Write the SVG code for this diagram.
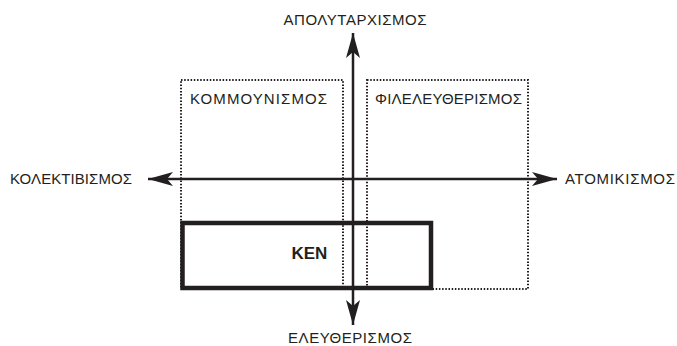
<svg xmlns="http://www.w3.org/2000/svg" width="677" height="346" viewBox="0 0 677 346">
<defs>
<style>
.lbl{font-family:"Liberation Sans",Arial,sans-serif;font-size:15px;fill:#231f20}
.bold{font-family:"Liberation Sans",Arial,sans-serif;font-size:17px;font-weight:bold;fill:#231f20}
.dot{fill:none;stroke:#231f20;stroke-width:2;stroke-dasharray:1.5 1.7}
.axis{fill:none;stroke:#231f20;stroke-width:2.5}
</style>
<marker id="ah" markerUnits="userSpaceOnUse" markerWidth="30" markerHeight="16" viewBox="-26 -8 30 16" refX="0" refY="0" orient="auto-start-reverse" overflow="visible">
<path d="M0,0 L-25,-7 L-19,0 L-25,7 Z" fill="#231f20"/>
</marker>
</defs>
<rect width="677" height="346" fill="#fff"/>
<g id="communism">
<rect class="dot" x="181" y="80" width="162" height="209"/>
<text class="lbl" x="190" y="104" textLength="137" lengthAdjust="spacing">ΚΟΜΜΟΥΝΙΣΜΟΣ</text>
</g>
<g id="liberalism">
<rect class="dot" x="367" y="80" width="161" height="209"/>
<text class="lbl" x="375" y="104" textLength="147" lengthAdjust="spacing">ΦΙΛΕΛΕΥΘΕΡΙΣΜΟΣ</text>
</g>
<g id="ken">
<rect x="182.5" y="223" width="248.5" height="65" fill="none" stroke="#231f20" stroke-width="4.5"/>
<text class="bold" x="291.5" y="259">KEN</text>
</g>
<g id="connectors">
<line class="axis" x1="353" y1="33" x2="353" y2="325" marker-start="url(#ah)" marker-end="url(#ah)"/>
<line class="axis" x1="148" y1="179" x2="557" y2="179" marker-start="url(#ah)" marker-end="url(#ah)"/>
</g>
<g id="labels">
<text class="lbl" x="355" y="25" text-anchor="middle" textLength="143" lengthAdjust="spacing">ΑΠΟΛΥΤΑΡΧΙΣΜΟΣ</text>
<text class="lbl" x="10" y="184" textLength="122" lengthAdjust="spacing">ΚΟΛΕΚΤΙΒΙΣΜΟΣ</text>
<text class="lbl" x="565" y="184" textLength="110" lengthAdjust="spacing">ΑΤΟΜΙΚΙΣΜΟΣ</text>
<text class="lbl" x="288" y="343" textLength="124" lengthAdjust="spacing">ΕΛΕΥΘΕΡΙΣΜΟΣ</text>
</g>
</svg>
